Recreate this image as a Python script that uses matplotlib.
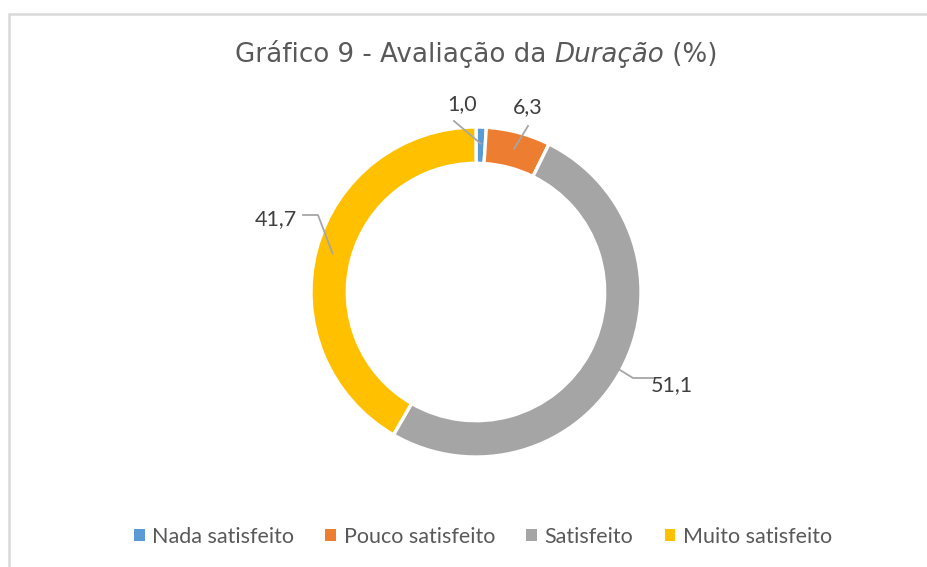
import matplotlib
matplotlib.use("Agg")
import matplotlib.pyplot as plt
from matplotlib.patches import Rectangle, Patch
import numpy as np

categories = ["Nada satisfeito", "Pouco satisfeito", "Satisfeito", "Muito satisfeito"]
values = [1.0, 6.3, 51.1, 41.7]
labels = ["1,0", "6,3", "51,1", "41,7"]
colors = ["#5B9BD5", "#ED7D31", "#A5A5A5", "#FFC000"]

W, H = 928, 567
CX, CY, R = 476, 292, 165  # pixel geometry of the doughnut

fig = plt.figure(figsize=(W / 100, H / 100), dpi=100)
ax = fig.add_axes([0, 0, 1, 1])

def px(x, y):
    return ((x - CX) / R, (CY - y) / R)

wedges, _ = ax.pie(values, colors=colors, startangle=90, counterclock=False, radius=1.0,
                   wedgeprops=dict(width=0.22, edgecolor="white", linewidth=2.4))
ax.set_aspect("auto")
ax.set_xlim(-CX / R, (W - CX) / R)
ax.set_ylim(-(H - CY) / R, CY / R)
ax.axis("off")

# chart border (left and top visible)
bx, by = px(9, 14)
ax.add_patch(Rectangle((bx, -3), 10, by + 3, fill=False, edgecolor="#D9D9D9", linewidth=1.8))

# title
tfont = dict(fontsize=18.8, color="#595959", family="DejaVu Sans")
parts = [("Gráfico 9 - Avaliação da ", "normal"), ("Duração", "italic"), (" (%)", "normal")]
fig.canvas.draw()
r = fig.canvas.get_renderer()
texts = []
for s, st in parts:
    t = ax.text(0, 0, s, style=st, ha="left", va="baseline", **tfont)
    texts.append(t)
widths = [t.get_window_extent(r).width for t in texts]
total = sum(widths)
x0 = CX - total / 2
ty = 62
for t, w in zip(texts, widths):
    t.set_position(px(x0, ty))
    x0 += w

# data labels with leader lines
lfont = dict(fontsize=15.5, color="#404040", family="Lato")
angles = []
cum = 0
for v in values:
    mid = 90 - (cum + v / 2) / sum(values) * 360
    angles.append(np.deg2rad(mid))
    cum += v
label_px = [(462, 104), (528, 107), (672, 385), (276, 219)]
line_px = [
    [(454, 121)],
    [(528, 126)],
    [(655, 378), (633, 378)],
    [(303, 215), (318, 215)],
]
for i, (lab, lp, lines) in enumerate(zip(labels, label_px, line_px)):
    tx, ty2 = px(*lp)
    ax.text(tx, ty2, lab, ha="center", va="center", **lfont)
    ax_end = (0.9 * np.cos(angles[i]), 0.9 * np.sin(angles[i]))
    pts = [px(*p) for p in lines] + [ax_end]
    xs, ys = zip(*pts)
    ax.plot(xs, ys, color="#A6A6A6", linewidth=1.3)

handles = [Patch(facecolor=c, edgecolor="none") for c in colors]
leg = ax.legend(handles, categories, loc="center", bbox_to_anchor=(483 / W, 1 - 537 / H),
                ncol=4, frameon=False, handlelength=0.5, handleheight=0.5,
                handletextpad=0.35, columnspacing=1.45,
                prop=dict(family="Lato", size=15.5))
for t in leg.get_texts():
    t.set_color("#595959")

fig.savefig("out.png", dpi=100, facecolor="white")
